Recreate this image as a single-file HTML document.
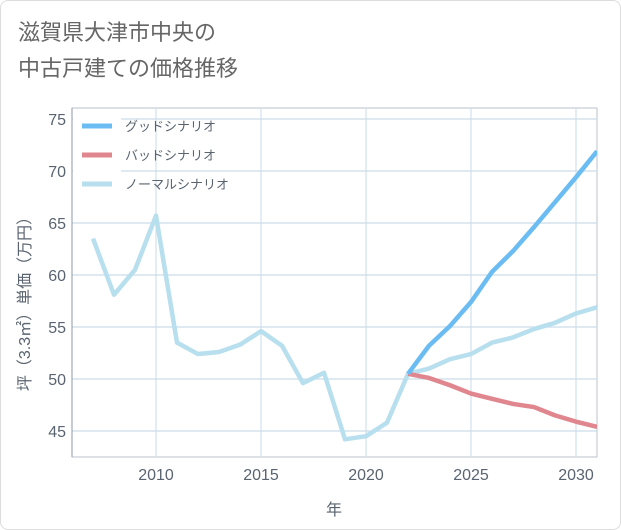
<!DOCTYPE html>
<html><head><meta charset="utf-8"><style>
body{margin:0;background:#fff;font-family:"Liberation Sans","Noto Sans CJK JP",sans-serif;}
#wrap{position:relative;width:621px;height:530px;box-sizing:border-box;border:1px solid #ddd;border-radius:8px;background:#fff;overflow:hidden}
</style></head><body>
<div id="wrap">
<svg id="chart" width="621" height="530" style="position:absolute;left:-1px;top:-1px"></svg>
</div>
<script>
const years=[2007,2008,2009,2010,2011,2012,2013,2014,2015,2016,2017,2018,2019,2020,2021,2022,2023,2024,2025,2026,2027,2028,2029,2030,2031];
const normalVals=[63.5,58.1,60.5,65.7,53.5,52.4,52.6,53.3,54.6,53.2,49.6,50.6,44.2,44.5,45.8,50.5,51.0,51.9,52.4,53.5,54.0,54.8,55.4,56.3,56.9];
const futureYears=[2022,2023,2024,2025,2026,2027,2028,2029,2030,2031];
const goodVals=[50.5,53.2,55.1,57.4,60.3,62.3,64.6,67.0,69.4,71.9];
const badVals=[50.5,50.1,49.4,48.6,48.1,47.6,47.3,46.5,45.9,45.4];
const xTicks=[2010,2015,2020,2025,2030];
const yTicks=[45,50,55,60,65,70,75];
const legendLabels=["グッドシナリオ","バッドシナリオ","ノーマルシナリオ"];
const colors=["#6bbcf2","#e0868e","#b8dfee"];

const svg=document.getElementById('chart');
const NS='http://www.w3.org/2000/svg';
const L=72,R=597,T=108,B=457;
const x=v=>156+(v-2010)*21;
const y=v=>119+(75-v)*(312/30);
function el(tag,attrs,parent){const e=document.createElementNS(NS,tag);for(const k in attrs)e.setAttribute(k,attrs[k]);(parent||svg).appendChild(e);return e;}
function txt(s,attrs){const e=el('text',attrs);e.textContent=s;return e;}
const TC='#5a6470';

const t1=txt('滋賀県大津市中央の',{x:18,y:40,'font-size':22,fill:'#666'});

const t2=txt('中古戸建ての価格推移',{x:18,y:76,'font-size':22,fill:'#666'});


const bg=el('rect',{x:L,y:T,width:R-L,height:B-T,fill:'#fff',stroke:'#aab4c0','stroke-width':0.8});


xTicks.forEach(yr=>{const g=el('line',{x1:x(yr),x2:x(yr),y1:T,y2:B,stroke:'#d3e1ec','stroke-width':1.2});
});
yTicks.forEach(v=>{const g=el('line',{x1:L,x2:R,y1:y(v),y2:y(v),stroke:'#c9dcea','stroke-width':1.2});
});
const la=el('line',{x1:L,x2:L,y1:T,y2:B,stroke:'#8e99a6','stroke-width':1});


xTicks.forEach(v=>{const t=txt(v,{x:x(v),y:480,'font-size':16,fill:TC,'text-anchor':'middle'});
});
yTicks.forEach(v=>{const t=txt(v,{x:66,y:y(v)+6,'font-size':16,fill:TC,'text-anchor':'end'});
});

const xt=txt('年',{x:334,y:515,'font-size':16,fill:TC,'text-anchor':'middle'});

const yt=txt('坪（3.3㎡）単価（万円）',{x:0,y:0,'font-size':16,fill:TC,'text-anchor':'middle',transform:'translate(30,300) rotate(-90)'});


const clip=el('clipPath',{id:'c'});el('rect',{x:L,y:T,width:R-L,height:B-T},clip);
function line(xs,vs,c,name){const p=el('polyline',{points:xs.map((yr,i)=>x(yr)+','+y(vs[i])).join(' '),fill:'none',stroke:c,'stroke-width':4.5,'stroke-linejoin':'round','clip-path':'url(#c)'});
}
line(years,normalVals,colors[2],'normal-scenario-line');
line(futureYears,badVals,colors[1],'bad-scenario-line');
line(futureYears,goodVals,colors[0],'good-scenario-line');

const lb=el('rect',{x:73,y:109,width:48,height:86,fill:'#fff'});

legendLabels.forEach((s,i)=>{const yy=126+i*29;
const l=el('line',{x1:82,x2:112,y1:yy,y2:yy,stroke:colors[i],'stroke-width':5});

const t=txt(s,{x:125,y:yy+5,'font-size':13,fill:TC});
});
</script>
</body></html>
